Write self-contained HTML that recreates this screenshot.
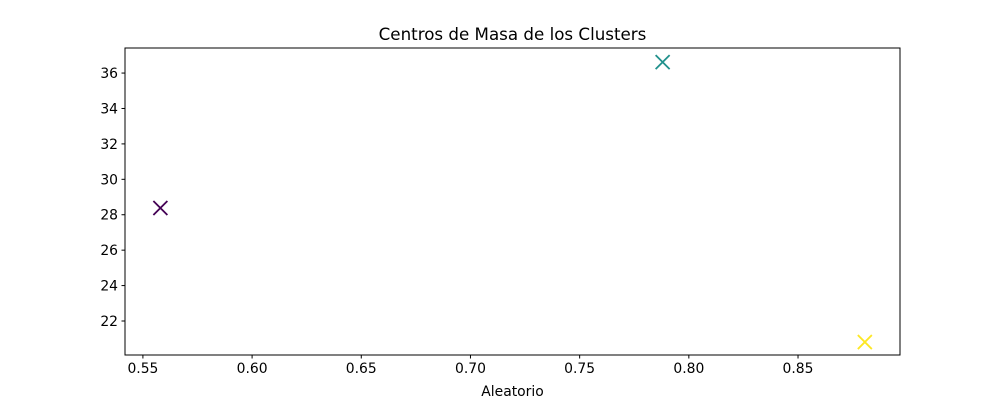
<!DOCTYPE html>
<html><head><meta charset="utf-8"><style>
body{margin:0;background:#fff;}
svg{display:block;font-family:"DejaVu Sans","Liberation Sans",sans-serif;}
</style></head><body>
<svg id="chart" width="1000" height="400" viewBox="0 0 1000 400">
<rect x="0" y="0" width="1000" height="400" fill="#fff"/>
<text x="512.5" y="40" text-anchor="middle" font-size="16.7" fill="#000">Centros de Masa de los Clusters</text>
<g id="ticks"></g>
<g id="marks"></g>
<rect x="125" y="48" width="775" height="307" fill="none" stroke="#000" stroke-width="1"/>
<text x="512.5" y="396" text-anchor="middle" font-size="13.9" fill="#000">Aleatorio</text>
</svg>
<script>
const clusterX = [0.558, 0.788, 0.8806];
const clusterY = [28.38, 36.62, 20.81];
const clusterColors = ["#440154", "#21918c", "#fde725"];
const xTicks = [0.55, 0.60, 0.65, 0.70, 0.75, 0.80, 0.85];
const yTicks = [22, 24, 26, 28, 30, 32, 34, 36];

const L=125,R=900,T=48,B=355;
const xMin=0.5418,xMax=0.8967,yMin=20.08,yMax=37.415;
function sx(v){return L+(v-xMin)/(xMax-xMin)*(R-L);}
function sy(v){return B-(v-yMin)/(yMax-yMin)*(B-T);}
const NS="http://www.w3.org/2000/svg";
function mk(tag,attrs,parent){const e=document.createElementNS(NS,tag);for(const k in attrs)e.setAttribute(k,attrs[k]);parent.appendChild(e);return e;}
const tg=document.getElementById('ticks');
xTicks.forEach(v=>{
  const x=sx(v);
  const l=mk('line',{x1:x,x2:x,y1:B,y2:B+3.5,stroke:'#000','stroke-width':1},tg);
  
  
  const t=mk('text',{x:x,y:B+18,'text-anchor':'middle','font-size':13.9},tg);
  t.textContent=v.toFixed(2);
  
  
});
yTicks.forEach(v=>{
  const y=sy(v);
  const l=mk('line',{x1:L-3.5,x2:L,y1:y,y2:y,stroke:'#000','stroke-width':1},tg);
  
  
  const t=mk('text',{x:L-7,y:y+5,'text-anchor':'end','font-size':13.9},tg);
  t.textContent=String(v);
  
  
});
const mg=document.getElementById('marks');
clusterX.forEach((v,i)=>{
  const x=sx(v),y=sy(clusterY[i]),h=7;
  const p=mk('path',{d:`M${x-h},${y-h}L${x+h},${y+h}M${x-h},${y+h}L${x+h},${y-h}`,stroke:clusterColors[i],'stroke-width':1.8,fill:'none'},mg);
  
  
});
</script>
</body></html>
